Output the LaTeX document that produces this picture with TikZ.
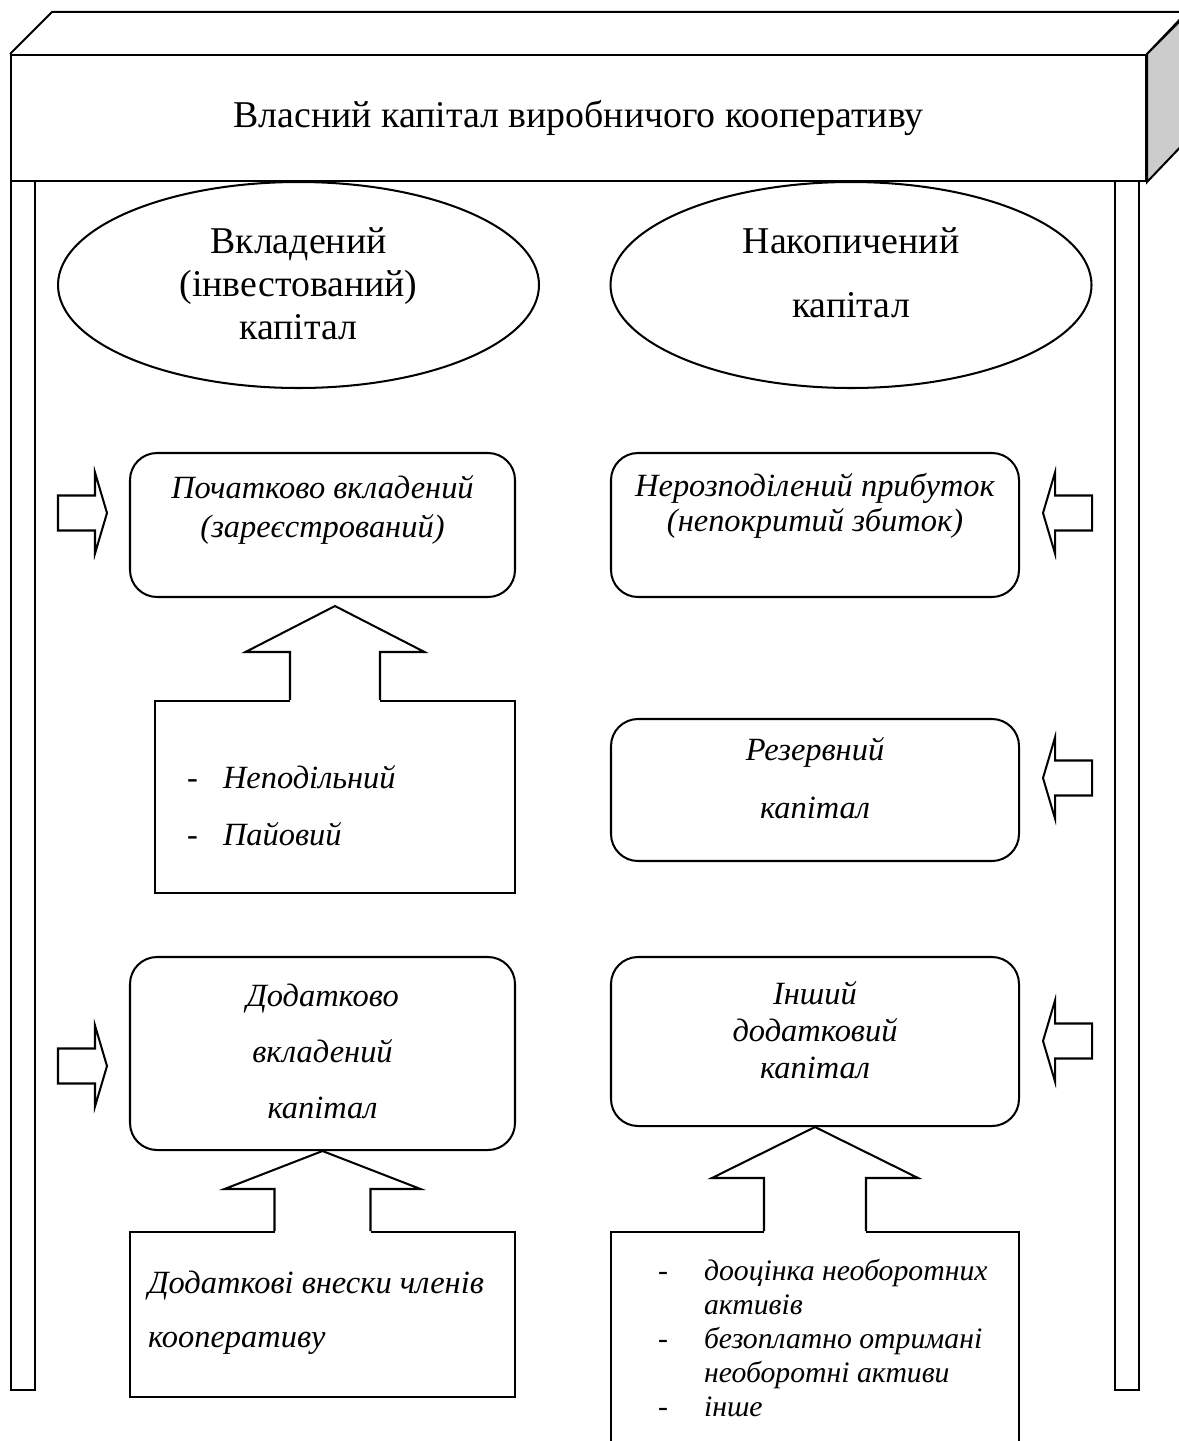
\documentclass[tikz,border=0pt]{standalone}
\usepackage{fontspec}
\setmainfont{Liberation Serif}
\usetikzlibrary{shapes.geometric,calc}

\newlength\pxu
\setlength\pxu{0.37pt}
% text block of a box: height, width, first baseline, line spacing, alignment, text
\newcommand\boxtext[6]{\parbox[c][#1\pxu][t]{#2\pxu}{#5\baselineskip=#4\pxu\relax\rule{0pt}{#3\pxu}#6}}
% wide up arrow from a box to the one above it
\newcommand\blockarrow[5]{%
  \fill[white] ($(#1.north)+(-#3,-1)$) rectangle ($(#1.north)+(#3,3)$);
  \draw[fill=white] ($(#1.north)+(-#3,0)$) -- ++(0,-#5) -- ++(#3-#4,0) -- (#2)
    -- ($(#1.north)+(#4,-#5)$) -- ++(#3-#4,0) -- ++(0,#5);
}

\begin{document}
\begin{tikzpicture}[x=0.37pt, y=-0.37pt, line width=0.75pt,
  every node/.style={inner sep=0pt},
  titlebox/.style={draw, fill=white, font=\fontsize{14}{16}\selectfont},
  capoval/.style={draw, ellipse, minimum width=481*\pxu, minimum height=206*\pxu, font=\fontsize{14}{16}\selectfont},
  capbox/.style={draw, rounded corners=10pt, font=\fontsize{12}{14}\selectfont\itshape},
  listbox/.style={draw, font=\fontsize{12}{14}\selectfont\itshape},
  sidearrow/.pic={\draw (0,17.5) -- (37,17.5) -- (37,40.5) -- (49,0) -- (37,-40.5) -- (37,-17.5) -- (0,-17.5) -- cycle;}]
\useasboundingbox (0,0) rectangle (1179,1441);

% pillars
\draw (11,181) rectangle (35,1390);
\draw (1115,181) rectangle (1139,1390);

% title block
\node (title) [titlebox, minimum width=1135*\pxu, minimum height=126*\pxu] at (578.5,118) {Власний капітал виробничого кооперативу};
\draw (title.north west) -- ++(42,-42) -- ++(1135,0) -- (title.north east);
\draw[fill=gray!40] (title.north east) -- ++(42,-42) -- ++(0,126) -- (title.south east) -- cycle;

% two kinds of capital
\node (invested) [capoval] at (298.5,285) {\boxtext{140}{300}{38}{43}{\centering}{Вкладений\\(інвестований)\\капітал}};
\node (accumulated) [capoval] at (851,285) {\boxtext{140}{300}{38}{64}{\centering}{Накопичений\\капітал}};

% left column
\node (initial) [capbox] at (322.5,525) {\boxtext{144}{385}{45}{39}{\centering}{Початково вкладений\\(зареєстрований)}};
\node (shares) [listbox] at (335,797) {\boxtext{192}{360}{87}{57}{\raggedright}{\hspace*{32\pxu}\makebox[36\pxu][l]{\upshape-}Неподільний\\\hspace*{32\pxu}\makebox[36\pxu][l]{\upshape-}Пайовий}};
\node (additional) [capbox] at (322.5,1053.5) {\boxtext{193}{385}{49}{56}{\centering}{Додатково\\вкладений\\капітал}};
\node (contrib) [listbox] at (322.5,1314.5) {\boxtext{165}{385}{61}{54}{\raggedright}{\hspace*{18\pxu}Додаткові внески членів\\\hspace*{18\pxu}кооперативу}};

% right column
\node (retained) [capbox] at (815,525) {\boxtext{144}{408}{43}{35}{\centering}{Нерозподілений прибуток\\(непокритий збиток)}};
\node (reserve) [capbox] at (815,790) {\boxtext{142}{408}{41}{58}{\centering}{Резервний\\капітал}};
\node (other) [capbox] at (815,1041.5) {\boxtext{169}{408}{47}{37}{\centering}{Інший\\додатковий\\капітал}};
\node (reval) [listbox, font=\fontsize{11}{13}\selectfont\itshape] at (815,1346) {\boxtext{228}{408}{48}{34}{\raggedright}{\hspace*{47\pxu}\makebox[46\pxu][l]{\upshape-}дооцінка необоротних\\\hspace*{93\pxu}активів\\\hspace*{47\pxu}\makebox[46\pxu][l]{\upshape-}безоплатно отримані\\\hspace*{93\pxu}необоротні активи\\\hspace*{47\pxu}\makebox[46\pxu][l]{\upshape-}інше}};

% wide arrows
\blockarrow{shares}{$(shares.north |- initial.south)+(0,8)$}{45}{89.5}{48}
\blockarrow{contrib}{contrib.north |- additional.south}{48}{98}{42}
\blockarrow{reval}{reval.north |- other.south}{51}{103}{53}

% side arrows
\pic at (58,513) {sidearrow};
\pic at (58,1066) {sidearrow};
\pic[xscale=-1] at (1092,513) {sidearrow};
\pic[xscale=-1] at (1092,778) {sidearrow};
\pic[xscale=-1] at (1092,1041) {sidearrow};
\end{tikzpicture}
\end{document}
